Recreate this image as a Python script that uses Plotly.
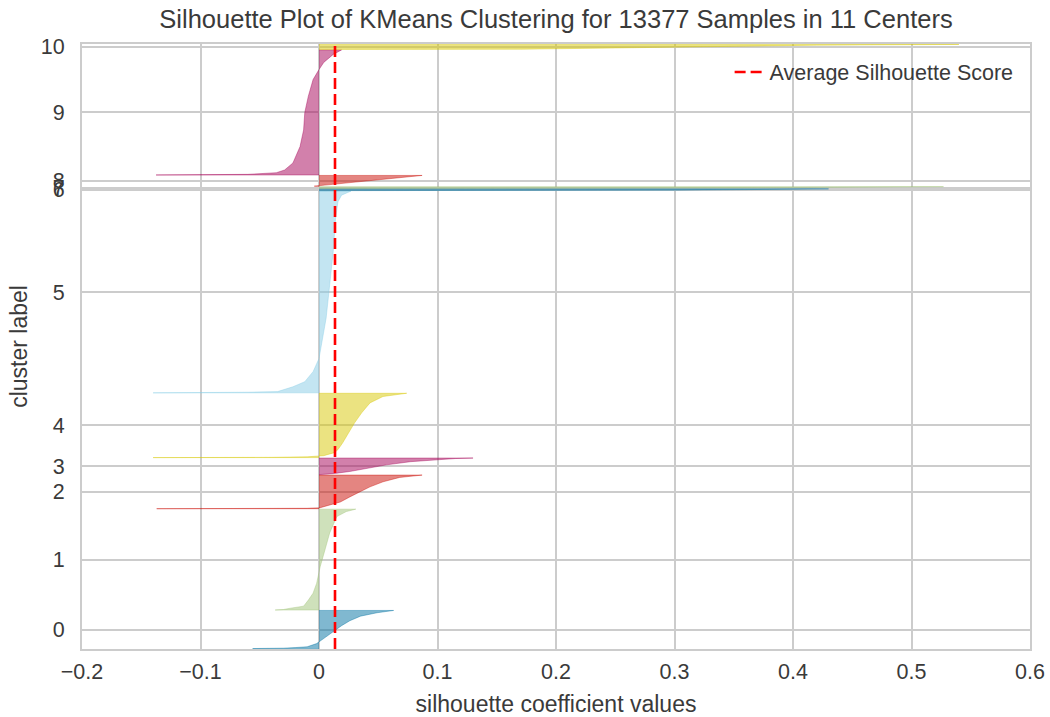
import plotly.graph_objects as go

# ---------------- data ----------------
cluster_labels = [str(i) for i in range(11)]
cluster_sizes = [850, 2250, 750, 370, 1435, 4500, 40, 40, 240, 2790, 112]

# sorted silhouette profile of each cluster: fraction through cluster -> value
c0_frac = [0.0, 0.01, 0.026, 0.046, 0.13, 0.22, 0.34, 0.47, 0.60, 0.73, 0.85, 0.94, 1.0]
c0_vals = [-0.056, -0.03, -0.02, -0.010, -0.002, 0.002, 0.008, 0.013, 0.019, 0.026, 0.035, 0.049, 0.063]

c1_frac = [0.0, 0.005, 0.018, 0.038, 0.098, 0.167, 0.264, 0.43, 0.595, 0.764, 0.926, 0.976, 1.0]
c1_vals = [-0.037, -0.030, -0.024, -0.013, -0.009, -0.005, -0.002, 0.001, 0.005, 0.009, 0.015, 0.023, 0.031]

c2_frac = [0.0, 0.004, 0.012, 0.03, 0.10, 0.20, 0.35, 0.50, 0.65, 0.80, 0.93, 1.0]
c2_vals = [-0.137, -0.04, -0.01, 0.001, 0.009, 0.018, 0.026, 0.035, 0.043, 0.054, 0.068, 0.087]

c3_frac = [0.0, 0.06, 0.19, 0.39, 0.59, 0.78, 0.88, 0.97, 1.0]
c3_vals = [0.0, 0.012, 0.026, 0.040, 0.057, 0.077, 0.096, 0.115, 0.13]

c4_frac = [0.0, 0.004, 0.012, 0.03, 0.077, 0.124, 0.23, 0.386, 0.54, 0.696, 0.85, 0.95, 1.0]
c4_vals = [-0.14, -0.04, -0.01, 0.004, 0.013, 0.016, 0.020, 0.025, 0.030, 0.036, 0.043, 0.054, 0.074]

c5_frac = [0.0, 0.003, 0.006, 0.014, 0.030, 0.055, 0.105, 0.17, 0.237, 0.37, 0.534, 0.70, 0.866, 0.947, 0.98, 1.0]
c5_vals = [-0.14, -0.06, -0.035, -0.030, -0.022, -0.012, -0.005, 0.0, 0.002, 0.006, 0.009, 0.012, 0.014, 0.016, 0.019, 0.027]

c6_frac = [0.0, 0.05, 0.3, 0.7, 1.0]
c6_vals = [0.0, 0.10, 0.30, 0.38, 0.43]

c7_frac = [0.0, 0.05, 0.3, 0.7, 1.0]
c7_vals = [0.0, 0.15, 0.35, 0.45, 0.527]

c8_frac = [0.0, 0.1, 0.3, 0.5, 0.7, 0.9, 1.0]
c8_vals = [-0.004, 0.005, 0.022, 0.040, 0.058, 0.077, 0.087]

c9_frac = [0.0, 0.005, 0.018, 0.04, 0.096, 0.227, 0.36, 0.50, 0.63, 0.763, 0.843, 0.90, 0.964, 1.0]
c9_vals = [-0.1375, -0.06, -0.036, -0.029, -0.022, -0.016, -0.013, -0.012, -0.009, -0.005, 0.0, 0.004, 0.012, 0.019]

c10_frac = [0.0, 0.05, 0.3, 0.6, 0.85, 1.0]
c10_vals = [0.0, 0.17, 0.25, 0.33, 0.42, 0.54]

avg_score = 0.0135

x_ticks = [-0.2, -0.1, 0.0, 0.1, 0.2, 0.3, 0.4, 0.5, 0.6]
x_tick_labels = ["\u22120.2", "\u22120.1", "0", "0.1", "0.2", "0.3", "0.4", "0.5", "0.6"]

palette = ["#0272a2", "#9fc377", "#ca0b03", "#a50258", "#d7c703", "#88cce6"]

title_text = "Silhouette Plot of KMeans Clustering for 13377 Samples in 11 Centers"
# ---------------------------------------------------------------

profiles = [
    (c0_frac, c0_vals), (c1_frac, c1_vals), (c2_frac, c2_vals), (c3_frac, c3_vals),
    (c4_frac, c4_vals), (c5_frac, c5_vals), (c6_frac, c6_vals), (c7_frac, c7_vals),
    (c8_frac, c8_vals), (c9_frac, c9_vals), (c10_frac, c10_vals),
]


def rgba(hex_color, a):
    h = hex_color.lstrip("#")
    r, g, b = int(h[0:2], 16), int(h[2:4], 16), int(h[4:6], 16)
    return f"rgba({r},{g},{b},{a})"


fig = go.Figure()

gap = 10
y_lower = 10
tick_pos = []
for idx, ((fr, vals), size) in enumerate(zip(profiles, cluster_sizes)):
    y_upper = y_lower + size
    col = palette[idx % len(palette)]
    ys = [y_lower] + [y_lower + f * size for f in fr] + [y_upper]
    xs = [0] + list(vals) + [0]
    fig.add_trace(go.Scatter(
        x=xs, y=ys, mode="lines", fill="toself",
        fillcolor=rgba(col, 0.5),
        line=dict(color=rgba(col, 0.4), width=1),
        showlegend=False, hoverinfo="skip",
    ))
    tick_pos.append(y_lower + 0.5 * size)
    y_lower = y_upper + gap

y_max = sum(cluster_sizes) + (len(cluster_sizes) + 1) * gap

fig.add_trace(go.Scatter(
    x=[avg_score, avg_score], y=[0, y_max], mode="lines",
    line=dict(color="red", width=2.6, dash="11px,5px"),
    name="Average Silhouette Score",
))

grid_col = "#cccccc"
text_col = "#3a3a3a"
fig.update_xaxes(
    range=[-0.2, 0.6], tickvals=x_ticks, ticktext=x_tick_labels,
    showgrid=True, gridcolor=grid_col, gridwidth=1.5,
    showline=True, linecolor=grid_col, linewidth=2, mirror=True,
    zeroline=False, ticks="", tickfont=dict(size=21.5, color=text_col),
    ticklabelstandoff=2, automargin=False,
    title=dict(text="silhouette coefficient values", font=dict(size=23, color=text_col), standoff=13),
)
fig.update_yaxes(
    range=[0, y_max], tickvals=tick_pos, ticktext=cluster_labels,
    showgrid=True, gridcolor=grid_col, gridwidth=1.5,
    showline=True, linecolor=grid_col, linewidth=2, mirror=True,
    zeroline=False, ticks="", tickfont=dict(size=21.5, color=text_col),
    ticklabelstandoff=11, automargin=False,
    title=dict(text="cluster label", font=dict(size=23, color=text_col), standoff=7),
)

fig.update_layout(
    width=1050, height=717,
    margin=dict(l=82, r=20, t=44, b=68),
    paper_bgcolor="white", plot_bgcolor="white",
    font=dict(family="Liberation Sans, Arial, sans-serif", color=text_col),
    title=dict(text=title_text, x=0.5, xref="paper", xanchor="center",
               y=1 - 19 / 717, yref="container", yanchor="middle",
               font=dict(size=25.5, color=text_col)),
    showlegend=True,
    legend=dict(x=0.988, y=1 - 28 / 605, xanchor="right", yanchor="middle",
                bgcolor="rgba(0,0,0,0)", font=dict(size=21.5, color=text_col)),
)

fig.write_html(
    "out.html",
    config={"displayModeBar": False},
    post_script="document.body.style.margin='0';document.body.style.overflow='hidden';",
)
